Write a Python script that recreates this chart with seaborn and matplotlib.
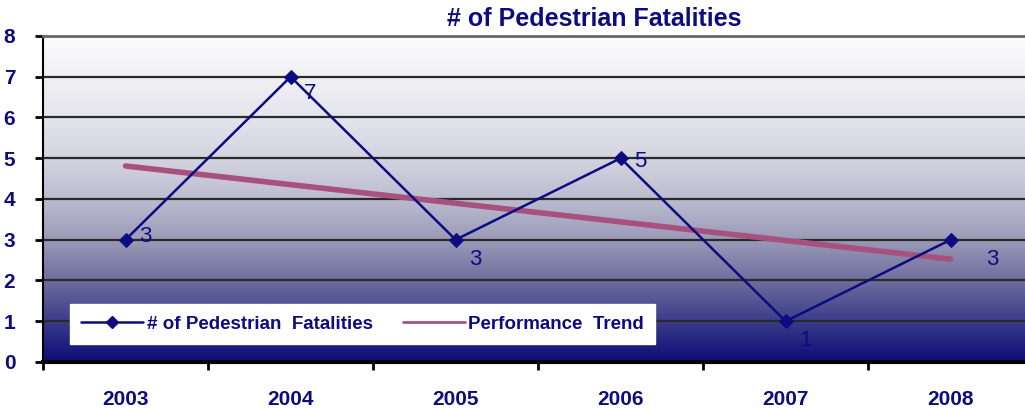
import numpy as np
import pandas as pd
import seaborn as sns
import matplotlib
matplotlib.use("Agg")
import matplotlib.pyplot as plt
from matplotlib.colors import LinearSegmentedColormap
from matplotlib.lines import Line2D

years = ['2003', '2004', '2005', '2006', '2007', '2008']
fatalities = [3, 7, 3, 5, 1, 3]

navy = '#0c0c80'
trend_col = '#a8507e'

sns.set_theme(style="white")
plt.rcParams['font.family'] = ['Liberation Sans', 'DejaVu Sans']

df = pd.DataFrame({'year': years, 'x': np.arange(len(years)), 'val': fatalities})

fig = plt.figure(figsize=(10.25, 4.09), dpi=100)
ax = fig.add_axes([0.042, 0.115, 0.966, 0.797])

# gradient background (white at top -> navy at bottom)
stops = ['#0c0c78', '#3c3c8a', '#6e6e9e', '#9a9ab8', '#bcbcd0', '#d4d4e0', '#e4e4ec', '#f0f0f4', '#fdfdfd']
cmap = LinearSegmentedColormap.from_list('bg', stops)
grad = np.linspace(0, 1, 256).reshape(-1, 1)
ax.imshow(grad, cmap=cmap, origin='lower', aspect='auto',
          extent=[-0.5, 5.5, 0, 8], zorder=0)

for yv in range(1, 8):
    ax.axhline(yv, color='#2a2a2a', lw=1.6, zorder=1)

# trend line (linear fit)
sns.regplot(data=df, x='x', y='val', ax=ax, scatter=False, ci=None,
            line_kws=dict(color=trend_col, lw=4, zorder=2))

sns.lineplot(data=df, x='x', y='val', ax=ax, color=navy, lw=1.8, marker='D',
             markersize=7, markeredgecolor=navy, zorder=3, legend=False)

offsets = [(14, 2), (14, -12), (14, -14), (14, -2), (14, -14), (30, -14)]
for xi, v, off in zip(df['x'], df['val'], offsets):
    ax.annotate(str(v), (xi, v), xytext=off, textcoords='offset points',
                ha='center', va='center', fontsize=16, color=navy)

ax.set_xlim(-0.5, 5.5)
ax.set_ylim(0, 8)
ax.set_yticks(range(0, 9))
ax.set_yticklabels([str(i) for i in range(9)], fontsize=15, fontweight='bold', color=navy)
ax.set_xticks(np.arange(-0.5, 5.6, 1))
ax.set_xticklabels([])
ax.tick_params(axis='both', which='major', direction='out', length=6, width=2, color='black', left=True, bottom=True)
ax.tick_params(axis='y', pad=14)
for xi, yr in zip(df['x'], years):
    ax.text(xi, -0.92, yr, ha='center', va='center', fontsize=15, fontweight='bold', color=navy,
            transform=ax.transData, clip_on=False)
ax.set_xlabel('')
ax.set_ylabel('')

ax.spines['left'].set_color('black')
ax.spines['left'].set_linewidth(1.5)
ax.spines['bottom'].set_color('black')
ax.spines['bottom'].set_linewidth(3)
ax.spines['top'].set_color('#666666')
ax.spines['top'].set_linewidth(2)
ax.spines['right'].set_visible(False)

handles = [Line2D([], [], color=navy, lw=1.8, marker='D', markersize=6),
           Line2D([], [], color=trend_col, lw=2)]
labels = ['# of Pedestrian  Fatalities', 'Performance  Trend']
leg = ax.legend(handles, labels, ncol=2,
                loc='lower left', bbox_to_anchor=(0.027, 0.055), frameon=True, fancybox=False,
                framealpha=1, edgecolor='white', handlelength=3.3, handletextpad=0.2,
                columnspacing=1.6, borderpad=0.6, borderaxespad=0,
                prop=dict(weight='bold', size=13.5))
for t in leg.get_texts():
    t.set_color(navy)

fig.text(0.58, 0.953, '# of Pedestrian Fatalities', ha='center', va='center', fontsize=18,
         fontweight='heavy', color=navy)

fig.savefig('out.png', dpi=100)
